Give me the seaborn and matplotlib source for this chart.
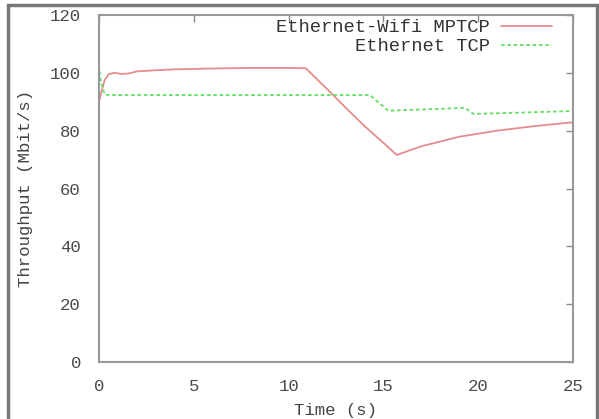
import matplotlib
matplotlib.use("Agg")
import matplotlib.pyplot as plt
import seaborn as sns
import pandas as pd
from matplotlib.patches import Rectangle

# Data
mptcp_t = [0.0, 0.15, 0.3, 0.5, 0.8, 1.2, 1.6, 2.0, 3.0, 4.0, 6.0, 8.0, 10.0, 10.9,
           12.0, 13.0, 14.0, 15.0, 15.7, 17.0, 19.0, 21.0, 23.0, 25.0]
mptcp_v = [90.0, 94.0, 97.5, 99.5, 100.0, 99.6, 99.8, 100.5, 100.9, 101.2, 101.5, 101.7, 101.7, 101.6,
           94.6, 88.0, 81.6, 75.8, 71.6, 74.6, 77.9, 80.0, 81.6, 82.9]

tcp_t = [0.0, 0.1, 0.3, 1.0, 5.0, 10.0, 14.3, 15.25, 17.0, 19.3, 19.75, 22.0, 25.0]
tcp_v = [102.7, 97.0, 92.4, 92.3, 92.3, 92.3, 92.3, 86.9, 87.3, 87.9, 85.8, 86.2, 86.8]

labels = ["Ethernet-Wifi MPTCP", "Ethernet TCP"]
x_ticks = [0, 5, 10, 15, 20, 25]
y_ticks = [0, 20, 40, 60, 80, 100, 120]

sns.set_style("white")
plt.rcParams['font.family'] = ['Liberation Mono', 'DejaVu Sans Mono']

fig = plt.figure(figsize=(5.99, 4.19), dpi=100)
ax = fig.add_axes([99/599, 1 - 362/419, (573-99)/599, (362-15)/419])

df1 = pd.DataFrame({"t": mptcp_t, "v": mptcp_v})
df2 = pd.DataFrame({"t": tcp_t, "v": tcp_v})
sns.lineplot(data=df1, x="t", y="v", ax=ax, color="#e58c8c", linewidth=1.3, label=labels[0])
sns.lineplot(data=df2, x="t", y="v", ax=ax, color="#66dd66", linewidth=1.3,
             dashes=False, label=labels[1])
ax.lines[1].set_dashes((2, 1.5))

ax.set_xlim(0, 25)
ax.set_ylim(0, 120)
ax.set_xticks(x_ticks)
ax.set_yticks(y_ticks)
ax.tick_params(direction="in", length=5, width=1, color="#888888",
               top=True, right=True, labelsize=12.5, labelcolor="#4a4a4a")
ax.tick_params(axis="y", pad=13)
ax.tick_params(axis="x", pad=12)
for s in ax.spines.values():
    s.set_color("#999999")
    s.set_linewidth(1.5)
ax.set_xlabel("Time (s)", fontsize=12.5, color="#444444", labelpad=7)
ax.set_ylabel("Throughput (Mbit/s)", fontsize=12.5, color="#444444", labelpad=12)

leg = ax.legend(loc="upper right", bbox_to_anchor=((552-99)/474, (362-19)/347),
                frameon=False, markerfirst=False, fontsize=13.5, handlelength=2.7,
                borderpad=0, borderaxespad=0, labelspacing=0.1, handletextpad=0.6)
for t in leg.get_texts():
    t.set_color("#333333")

fig.patches.append(Rectangle((8/599, -0.01), (597-8)/599, 1 - 5/419 + 0.01,
                             transform=fig.transFigure, fill=False,
                             edgecolor="#777777", linewidth=2.5))

fig.savefig("out.png", dpi=100)
